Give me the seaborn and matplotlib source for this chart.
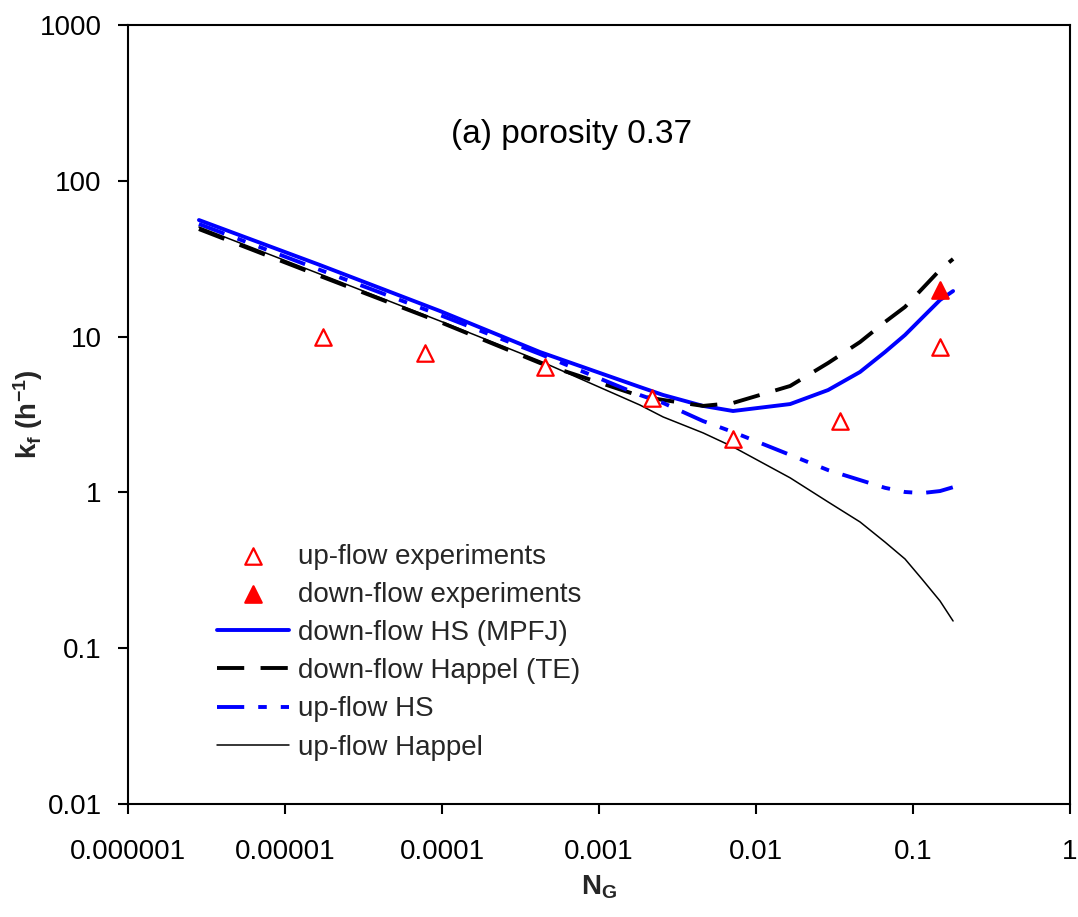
import numpy as np
import pandas as pd
import matplotlib
matplotlib.use("Agg")
import matplotlib.pyplot as plt
from matplotlib.ticker import FixedLocator, FixedFormatter, NullLocator
import seaborn as sns

# ---------------- data ----------------
ng_model = [2.83e-6, 1.67e-5, 9.7e-5, 4.21e-4, 1.82e-3, 2.56e-3, 4.6e-3, 7.14e-3,
            0.0165, 0.0288, 0.0460, 0.0663, 0.0889, 0.114, 0.1486, 0.180]
kf_down_hs = [56.0, 28.8, 14.6, 7.96, 4.75, 4.22, 3.59, 3.33,
              3.69, 4.54, 5.93, 7.96, 10.24, 13.16, 17.17, 19.6]
kf_down_happel = [49.0, 24.5, 12.41, 6.77, 4.16, 3.92, 3.59, 3.75,
                  4.82, 6.77, 9.23, 12.41, 15.5, 20.2, 26.8, 31.5]
kf_up_hs = [52.8, 26.8, 13.76, 7.73, 4.22, 3.75, 2.87, 2.44,
            1.74, 1.39, 1.20, 1.07, 1.006, 0.99, 1.02, 1.08]
kf_up_happel = [50.5, 25.2, 12.6, 6.97, 3.64, 3.05, 2.41, 1.96,
                1.24, 0.868, 0.646, 0.48, 0.374, 0.278, 0.201, 0.1495]

ng_up_exp = [1.75e-5, 7.8e-5, 4.53e-4, 2.17e-3, 7.17e-3, 0.0343, 0.1486]
kf_up_exp = [9.9, 7.88, 6.35, 4.02, 2.19, 2.87, 8.61]
ng_down_exp = [0.1486]
kf_down_exp = [19.9]

x_ticks = [1e-6, 1e-5, 1e-4, 1e-3, 1e-2, 1e-1, 1]
x_ticklabels = ["0.000001", "0.00001", "0.0001", "0.001", "0.01", "0.1", "1"]
y_ticks = [0.01, 0.1, 1, 10, 100, 1000]
y_ticklabels = ["0.01", "0.1", "1", "10", "100", "1000"]

title_text = "(a) porosity 0.37"
labels = ["up-flow experiments", "down-flow experiments", "down-flow HS (MPFJ)",
          "down-flow Happel (TE)", "up-flow HS", "up-flow Happel"]

# ---------------- style ----------------
sns.set_style("ticks")
plt.rcParams["font.family"] = ["Liberation Sans", "DejaVu Sans"]
plt.rcParams["mathtext.default"] = "regular"

fig = plt.figure(figsize=(10.78, 9.17), dpi=100)
ax = fig.add_axes([128 / 1078, 113 / 917, 942 / 1078, 779 / 917])

ax.set_xscale("log")
ax.set_yscale("log")

model = pd.DataFrame({"ng": ng_model, "down_hs": kf_down_hs, "down_happel": kf_down_happel,
                      "up_hs": kf_up_hs, "up_happel": kf_up_happel})

sns.lineplot(data=model, x="ng", y="down_hs", ax=ax, color="#0000FF", linewidth=2.8,
             label=labels[2], zorder=3)
sns.lineplot(data=model, x="ng", y="down_happel", ax=ax, color="black", linewidth=2.8,
             linestyle=(0, (7.0, 4.2)), label=labels[3], zorder=3)
sns.lineplot(data=model, x="ng", y="up_hs", ax=ax, color="#0000FF", linewidth=2.8,
             linestyle=(0, (7.0, 3.6, 2.2, 3.6, 2.2, 3.6)), label=labels[4], zorder=3)
sns.lineplot(data=model, x="ng", y="up_happel", ax=ax, color="black", linewidth=1.1,
             label=labels[5], zorder=3)

up_df = pd.DataFrame({"ng": ng_up_exp, "kf": kf_up_exp})
down_df = pd.DataFrame({"ng": ng_down_exp, "kf": kf_down_exp})
sns.scatterplot(data=up_df, x="ng", y="kf", ax=ax, marker="^", s=140,
                facecolor="white", edgecolor="#FF0000", linewidth=1.6,
                label=labels[0], zorder=5)
sns.scatterplot(data=down_df, x="ng", y="kf", ax=ax, marker="^", s=140,
                color="#FF0000", edgecolor="#FF0000", linewidth=1.6,
                label=labels[1], zorder=5)

ax.set_xlim(1e-6, 1)
ax.set_ylim(0.01, 1000)
ax.xaxis.set_major_locator(FixedLocator(x_ticks))
ax.xaxis.set_major_formatter(FixedFormatter(x_ticklabels))
ax.yaxis.set_major_locator(FixedLocator(y_ticks))
ax.yaxis.set_major_formatter(FixedFormatter(y_ticklabels))
ax.xaxis.set_minor_locator(NullLocator())
ax.yaxis.set_minor_locator(NullLocator())

for s in ax.spines.values():
    s.set_visible(True)
    s.set_linewidth(1.5)
    s.set_color("black")
ax.tick_params(axis="both", which="major", direction="out", length=7, width=1.5,
               labelsize=20, color="black", labelcolor="black")
ax.tick_params(axis="x", pad=18)
ax.tick_params(axis="y", pad=12)

ax.set_xlabel(r"N$_\mathregular{G}$", fontsize=20, fontweight="bold", labelpad=6)
ax.set_ylabel(r"k$_\mathregular{f}$ (h$^\mathregular{-1}$)", fontsize=20,
              fontweight="bold")
ax.yaxis.set_label_coords(-0.088, 0.5)

ax.text(0.4708, 0.8588, title_text, transform=ax.transAxes, fontsize=24,
        ha="center", va="center", color="black")

handles, labs = ax.get_legend_handles_labels()
hmap = dict(zip(labs, handles))
ax.legend([hmap[l] for l in labels], labels, loc="upper left",
          bbox_to_anchor=(0.0945, 0.3344), frameon=False, fontsize=20,
          borderpad=0, borderaxespad=0, handlelength=2.6, handletextpad=0.3,
          labelspacing=0.44)

fig.savefig("out.png", dpi=100)
